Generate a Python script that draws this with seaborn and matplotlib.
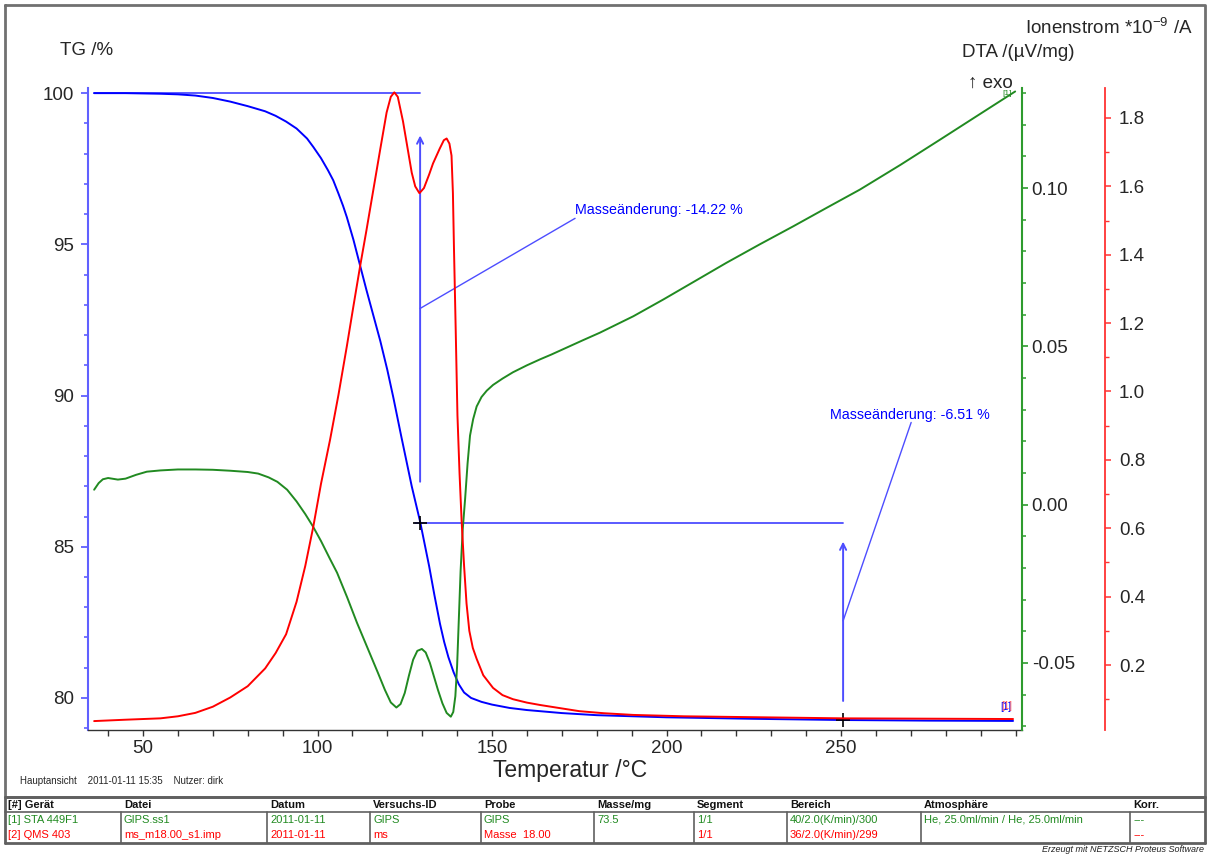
import numpy as np
import pandas as pd
import matplotlib
matplotlib.use("Agg")
import matplotlib.pyplot as plt
from matplotlib.ticker import MultipleLocator
from matplotlib.lines import Line2D
import seaborn as sns

# ---------------- data ----------------
T_tg = [36, 45, 55, 60, 65, 70, 75, 80, 85, 88, 91, 94, 97, 98.8, 101, 103, 104.5, 106,
        107.3, 108.4, 110.3, 112.2, 114, 116, 118, 120, 121.7, 124, 127, 129.4, 132,
        133.5, 135.1, 136.3, 137.5, 139, 140.5, 142, 144, 147, 150, 155, 160, 170, 180,
        200, 225, 250.6, 275, 299.3]
TG = [100.0, 100.0, 99.98, 99.96, 99.92, 99.84, 99.72, 99.57, 99.40, 99.25, 99.06,
      98.83, 98.50, 98.22, 97.85, 97.45, 97.12, 96.68, 96.28, 95.90, 95.15, 94.30,
      93.50, 92.65, 91.80, 90.85, 89.95, 88.65, 87.00, 85.83, 84.35, 83.40, 82.45,
      81.85, 81.35, 80.85, 80.45, 80.18, 80.00, 79.87, 79.78, 79.67, 79.60, 79.50,
      79.43, 79.36, 79.31, 79.27, 79.25, 79.24]

T_dta = [36, 37.3, 38.5, 40, 42.8, 45, 48, 51.1, 55, 60, 65, 70, 75, 80, 83, 86, 88.5,
         91.3, 94, 96.5, 98.7, 101, 103.5, 105.6, 108.5, 111.3, 114.3, 117.3, 119.3,
         121, 122.6, 123.8, 125, 126.2, 127.4, 128.6, 129.9, 131, 132.2, 133.2, 134.5,
         135.8, 137, 138.2, 138.9, 139.5, 140.0, 140.5, 141, 141.6, 142.3, 143, 143.7,
         144.6, 145.6, 147, 148.5, 150.3, 153, 156, 160, 163.8, 167, 171.4, 176, 180.9,
         190.5, 199.1, 208, 217.2, 226.7, 236.3, 245.8, 255.4, 267, 278.4, 289, 299.9]
DTA = [0.0047, 0.0068, 0.0080, 0.0084, 0.0079, 0.0082, 0.0094, 0.0104, 0.0108, 0.0111,
       0.0111, 0.0110, 0.0107, 0.0103, 0.0098, 0.0086, 0.0072, 0.0047, 0.0010, -0.0030,
       -0.0069, -0.0115, -0.0170, -0.0215, -0.0293, -0.0373, -0.0452, -0.0531, -0.0585,
       -0.0625, -0.0641, -0.0630, -0.0595, -0.0540, -0.0490, -0.0462, -0.0456, -0.0467,
       -0.0500, -0.0537, -0.0585, -0.0628, -0.0658, -0.0670, -0.0655, -0.0605, -0.0510,
       -0.0360, -0.0210, -0.0080, 0.0019, 0.0130, 0.0218, 0.0270, 0.0310, 0.0340,
       0.0360, 0.0378, 0.0398, 0.0418, 0.0440, 0.0459, 0.0474, 0.0496, 0.0519, 0.0543,
       0.0595, 0.0648, 0.0705, 0.0764, 0.0822, 0.0879, 0.0937, 0.0995, 0.1073, 0.1153,
       0.1228, 0.1305]

T_ion = [36, 45, 55, 60, 65, 70, 75, 80, 85, 88, 91, 94, 96.5, 98.8, 101, 103.6, 106,
         108.4, 110.3, 112.2, 114, 116, 118, 119.8, 121, 122, 123, 124.5, 126, 127, 128,
         129.2, 130.5, 132, 133.1, 135, 136.2, 137, 137.8, 138.4, 138.8, 139.1, 139.6,
         140.1, 140.7, 141.3, 142, 142.7, 143.5, 144.5, 145.6, 147.5, 150.3, 153, 156,
         160, 163.8, 170, 175, 182, 190.5, 205, 220, 250.6, 299.3]
ION = [0.036, 0.040, 0.044, 0.050, 0.060, 0.078, 0.105, 0.138, 0.190, 0.235, 0.290,
       0.385, 0.490, 0.605, 0.730, 0.859, 0.990, 1.132, 1.250, 1.366, 1.470, 1.590,
       1.710, 1.816, 1.862, 1.875, 1.862, 1.790, 1.700, 1.640, 1.600, 1.580, 1.595,
       1.635, 1.667, 1.710, 1.735, 1.740, 1.725, 1.690, 1.580, 1.420, 1.180, 0.930,
       0.760, 0.620, 0.490, 0.380, 0.300, 0.250, 0.218, 0.170, 0.133, 0.112, 0.100,
       0.090, 0.083, 0.073, 0.065, 0.059, 0.054, 0.050, 0.048, 0.044, 0.042]

# mass-step evaluation
step_T = [129.4, 250.6]
step_TG = [100.0, 85.78, 79.27]
step_labels = ["Masseänderung: -14.22 %", "Masseänderung: -6.51 %"]

x_ticks = [50, 100, 150, 200, 250]
tg_ticks = [80, 85, 90, 95, 100]
dta_ticks = [-0.05, 0.00, 0.05, 0.10]
ion_ticks = [0.2, 0.4, 0.6, 0.8, 1.0, 1.2, 1.4, 1.6, 1.8]

table_header = ["[#] Gerät", "Datei", "Datum", "Versuchs-ID", "Probe", "Masse/mg",
                "Segment", "Bereich", "Atmosphäre", "Korr."]
table_row1 = ["[1] STA 449F1", "GIPS.ss1", "2011-01-11", "GIPS", "GIPS", "73.5", "1/1",
              "40/2.0(K/min)/300", "He, 25.0ml/min / He, 25.0ml/min", "---"]
table_row2 = ["[2] QMS 403", "ms_m18.00_s1.imp", "2011-01-11", "ms", "Masse  18.00", "",
              "1/1", "36/2.0(K/min)/299", "", "---"]

# ---------------- style ----------------
sns.set_style("white")
plt.rcParams['font.family'] = ['Liberation Sans', 'DejaVu Sans']
plt.rcParams['mathtext.default'] = 'regular'

BLUE = '#0000FF'
LBLUE = '#4D4DFF'
RED = '#FF0000'
GREEN = '#218A21'

W, H = 1211, 856
fig = plt.figure(figsize=(W / 100, H / 100), dpi=100)
fig.patch.set_facecolor('white')

L, R, T, B = 88, 1022, 88, 730
ax = fig.add_axes([L / W, 1 - B / H, (R - L) / W, (B - T) / H])
ax.patch.set_alpha(0)

df_tg = pd.DataFrame({"T": T_tg, "TG": TG})
df_dta = pd.DataFrame({"T": T_dta, "DTA": DTA})
df_ion = pd.DataFrame({"T": T_ion, "ION": ION})

sns.lineplot(data=df_tg, x="T", y="TG", ax=ax, color=BLUE, lw=1.4,
             estimator=None, sort=False, zorder=5)
ax.set_xlim(34.24, 301.86)
ax.set_ylim(78.94, 100.17)

ax2 = ax.twinx()
sns.lineplot(data=df_dta, x="T", y="DTA", ax=ax2, color=GREEN, lw=1.4,
             estimator=None, sort=False)
ax2.set_ylim(-0.0712, 0.1316)

ax3 = ax.twinx()
sns.lineplot(data=df_ion, x="T", y="ION", ax=ax3, color=RED, lw=1.4,
             estimator=None, sort=False)
ax3.set_ylim(0.0099, 1.8877)
ax3.spines['right'].set_position(('axes', (1105 - L) / (R - L)))

for a in (ax, ax2, ax3):
    a.set_xlabel("")
    a.set_ylabel("")
    for s in a.spines.values():
        s.set_visible(False)

# main axis spines/ticks
ax.spines['left'].set_visible(True)
ax.spines['left'].set_color('#6060FF')
ax.spines['left'].set_linewidth(1.5)
ax.spines['bottom'].set_visible(True)
ax.spines['bottom'].set_color('#333333')
ax.spines['bottom'].set_linewidth(1.0)
ax.set_xticks(x_ticks)
ax.set_xticklabels([str(v) for v in x_ticks])
ax.xaxis.set_minor_locator(MultipleLocator(10))
ax.set_yticks(tg_ticks)
ax.set_yticklabels([str(v) for v in tg_ticks])
ax.yaxis.set_minor_locator(MultipleLocator(1))
ax.tick_params(axis='x', which='both', direction='out', length=4, width=1,
               color='#333333', labelsize=13.5, pad=3, bottom=True)
ax.tick_params(axis='y', which='major', direction='out', length=5, width=1.3,
               color='#6060FF', labelsize=13.5, pad=5, left=True)
ax.tick_params(axis='y', which='minor', direction='out', length=3, width=1.2,
               color='#6060FF', left=True)

# DTA axis
ax2.spines['right'].set_visible(True)
ax2.spines['right'].set_color('#2E9B2E')
ax2.spines['right'].set_linewidth(1.5)
ax2.set_yticks(dta_ticks)
ax2.set_yticklabels([f"{v:.2f}" for v in dta_ticks])
ax2.yaxis.set_minor_locator(MultipleLocator(0.01))
ax2.tick_params(axis='y', which='major', direction='out', length=4, width=1.2,
                color='#2E9B2E', labelsize=13.5, pad=3, right=True)
ax2.tick_params(axis='y', which='minor', direction='out', length=3, width=1.1,
                color='#2E9B2E', right=True)

# ion current axis
ax3.spines['right'].set_visible(True)
ax3.spines['right'].set_color('#FF3333')
ax3.spines['right'].set_linewidth(1.3)
ax3.set_yticks(ion_ticks)
ax3.set_yticklabels([f"{v:.1f}" for v in ion_ticks])
ax3.yaxis.set_minor_locator(MultipleLocator(0.1))
ax3.tick_params(axis='y', which='major', direction='out', length=4, width=1.1,
                color='#FF3333', labelsize=13.5, pad=6, right=True)
ax3.tick_params(axis='y', which='minor', direction='out', length=3, width=1.0,
                color='#FF3333', right=True)

# ---------------- mass-step evaluation annotations (TG coordinates) ----------------
ax.plot([T_tg[0], step_T[0]], [step_TG[0], step_TG[0]], color=LBLUE, lw=1.3, zorder=4)
ax.plot([step_T[0] - 1.5, step_T[1]], [step_TG[1], step_TG[1]], color=LBLUE, lw=1.3, zorder=4)
arrow_kw = dict(arrowstyle='->', color=LBLUE, lw=1.4, mutation_scale=11, shrinkA=0, shrinkB=0)
ax.annotate('', xy=(step_T[0], 98.6), xytext=(step_T[0], 87.15), arrowprops=arrow_kw, zorder=4)
ax.annotate('', xy=(step_T[1], 85.17), xytext=(step_T[1], 79.9), arrowprops=arrow_kw, zorder=4)
ax.plot([step_T[0], step_T[1]], [step_TG[1], step_TG[2]], ls='none', marker='+',
        color='black', ms=10, mew=1.2, zorder=6)
# leader lines + labels
ax.plot([step_T[0], 173.8], [92.88, 95.86], color=LBLUE, lw=1.0, zorder=4)
ax.text(173.8, 95.9, step_labels[0], color=BLUE, fontsize=10.3, ha='left', va='bottom')
ax.plot([step_T[1], 270.1], [82.55, 89.11], color=LBLUE, lw=1.0, zorder=4)
ax.text(246.8, 89.12, step_labels[1], color=BLUE, fontsize=10.3, ha='left', va='bottom')

# curve end tags
ax.text(297.3, 79.55, "[1]", color=BLUE, fontsize=7, ha='center', va='bottom', zorder=7)
ax.text(297.6, 79.57, "[1]", color=RED, fontsize=7, ha='center', va='bottom', alpha=0.6, zorder=7)
ax2.text(297.5, 0.1300, "[1]", color=GREEN, fontsize=6, ha='center', va='center')

# ---------------- overlay in pixel coordinates: frame, labels, table ----------------
ov = fig.add_axes([0, 0, 1, 1], zorder=-1)
ov.set_xlim(0, W)
ov.set_ylim(H, 0)
ov.axis('off')

ov.add_line(Line2D([5, 1205, 1205, 5, 5], [5, 5, 797, 797, 5], color='#707070', lw=2))

ov.text(60, 50, "TG /%", fontsize=13.5, ha='left', va='center')
ov.text(1193, 28, r"Ionenstrom *10$^{-9}$ /A", fontsize=13.5, ha='right', va='center')
ov.text(962, 52, "DTA /(µV/mg)", fontsize=13.5, ha='left', va='center')
ov.text(968, 83, "↑ exo", fontsize=13.5, ha='left', va='center')
ov.text(570, 770, "Temperatur /°C", fontsize=16.5, ha='center', va='center')
ov.text(20, 781, "Hauptansicht    2011-01-11 15:35    Nutzer: dirk", fontsize=7, ha='left',
        va='center')

# table
col_x = [5, 121, 267, 370, 481, 594, 694, 787, 921, 1130]
for yy, lw in ((797, 2), (812, 1.2), (843, 2)):
    ov.add_line(Line2D([5, 1205], [yy, yy], color='#606060', lw=lw))
for xx in col_x[1:]:
    ov.add_line(Line2D([xx, xx], [812, 843], color='#606060', lw=1.2))
for xx in (5, 1205):
    ov.add_line(Line2D([xx, xx], [797, 843], color='#606060', lw=2))
for i, xx in enumerate(col_x):
    ov.text(xx + 3, 804.5, table_header[i], fontsize=8, ha='left', va='center',
            color='#111111', fontweight='semibold')
    ov.text(xx + 3, 820, table_row1[i], fontsize=8, ha='left', va='center', color=GREEN)
    ov.text(xx + 3, 835, table_row2[i], fontsize=8, ha='left', va='center', color=RED)
ov.text(1204, 850, "Erzeugt mit NETZSCH Proteus Software", fontsize=6.5, style='italic',
        ha='right', va='center', color='#222222')

fig.savefig("out.png", dpi=100)
